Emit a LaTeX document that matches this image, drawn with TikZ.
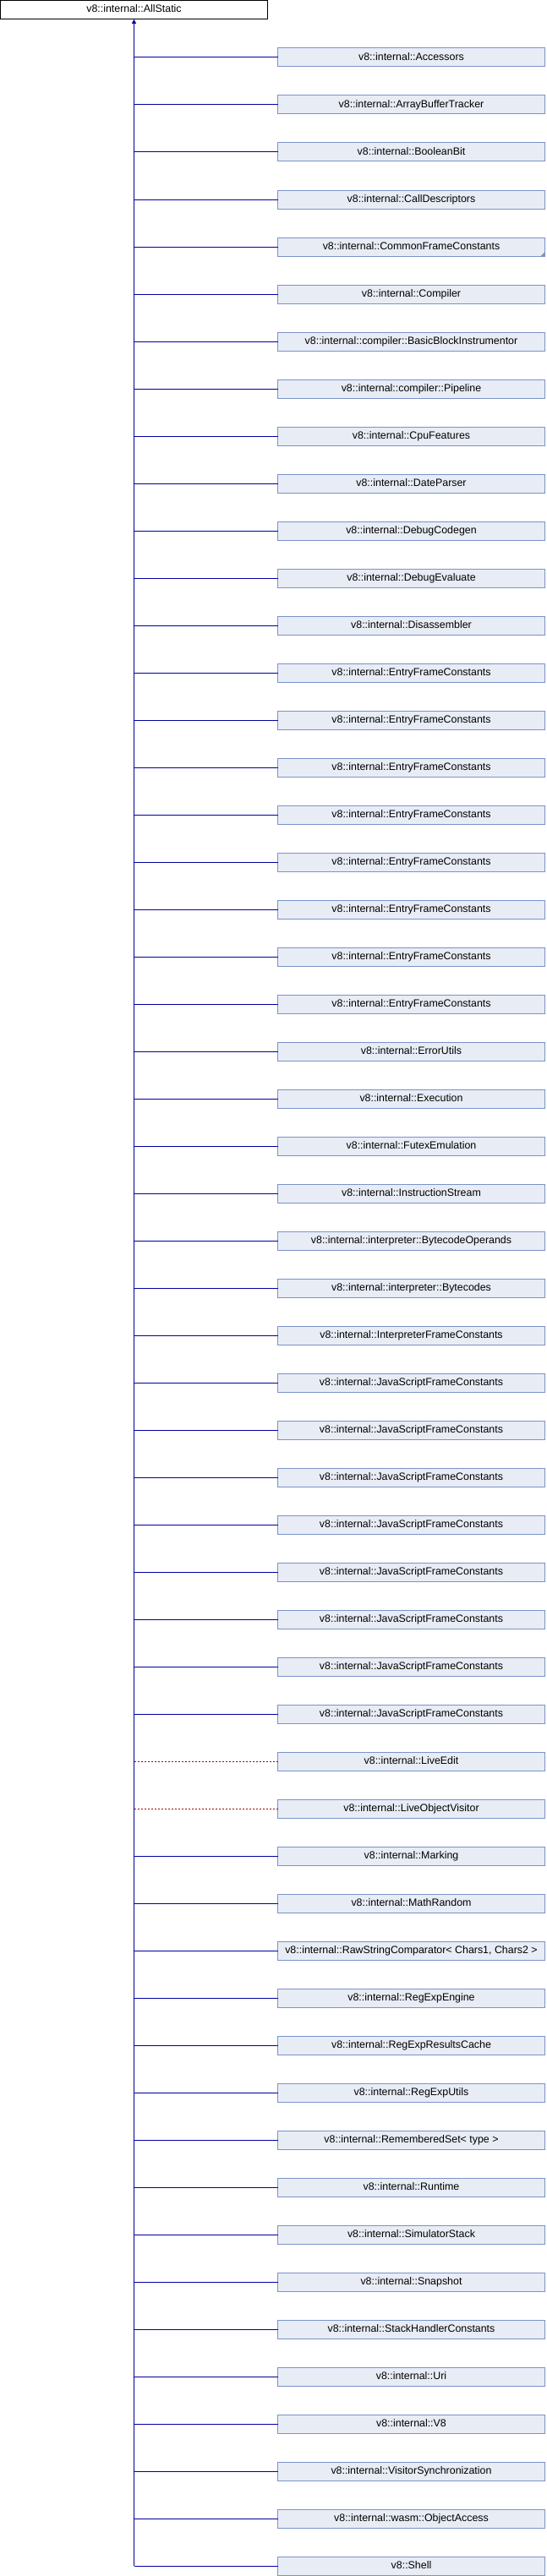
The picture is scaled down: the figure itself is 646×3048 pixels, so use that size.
\documentclass[tikz,border=0pt]{standalone}
\usepackage{fontspec}
\setmainfont{Liberation Sans}
\usetikzlibrary{arrows.meta,positioning}
\definecolor{clsfill}{HTML}{E8ECF5}
\definecolor{clsline}{HTML}{7A93C9}
\definecolor{publine}{HTML}{0000A0}
\definecolor{privline}{HTML}{A00000}

\begin{document}
\begin{tikzpicture}[x=1pt, y=-1pt, node distance=34pt,
    cls/.style={draw=clsline, fill=clsfill, line width=1pt, minimum width=316pt,
      minimum height=22pt, inner sep=0pt, outer sep=0pt, text height=9pt, text depth=2.5pt,
      font=\fontsize{12.4}{14}\selectfont},
    basecls/.style={cls, draw=black, fill=white, minimum height=22.3pt},
    pub/.style={draw=publine, line width=1pt},
    priv/.style={draw=privline, line width=1pt, dash pattern=on 2pt off 2pt}]
           \useasboundingbox (0,0) rectangle (646,3048);
           \node [basecls] (AS) at (158.5,11.65) {v8::internal::AllStatic};
           \node [cls] (Acc) at (486.5,68) {v8::internal::Accessors};
           \node [cls, below=of Acc] (ABT) {v8::internal::ArrayBufferTracker};
           \node [cls, below=of ABT] (BB) {v8::internal::BooleanBit};
           \node [cls, below=of BB] (CD) {v8::internal::CallDescriptors};
           \node [cls, below=of CD] (CFC) {v8::internal::CommonFrameConstants};
           \node [cls, below=of CFC] (Comp) {v8::internal::Compiler};
           \node [cls, below=of Comp] (BBI) {v8::internal::compiler::BasicBlockInstrumentor};
           \node [cls, below=of BBI] (Pipe) {v8::internal::compiler::Pipeline};
           \node [cls, below=of Pipe] (CPU) {v8::internal::CpuFeatures};
           \node [cls, below=of CPU] (DP) {v8::internal::DateParser};
           \node [cls, below=of DP] (DC) {v8::internal::DebugCodegen};
           \node [cls, below=of DC] (DE) {v8::internal::DebugEvaluate};
           \node [cls, below=of DE] (Dis) {v8::internal::Disassembler};
           \node [cls, below=of Dis] (EFC1) {v8::internal::EntryFrameConstants};
           \node [cls, below=of EFC1] (EFC2) {v8::internal::EntryFrameConstants};
           \node [cls, below=of EFC2] (EFC3) {v8::internal::EntryFrameConstants};
           \node [cls, below=of EFC3] (EFC4) {v8::internal::EntryFrameConstants};
           \node [cls, below=of EFC4] (EFC5) {v8::internal::EntryFrameConstants};
           \node [cls, below=of EFC5] (EFC6) {v8::internal::EntryFrameConstants};
           \node [cls, below=of EFC6] (EFC7) {v8::internal::EntryFrameConstants};
           \node [cls, below=of EFC7] (EFC8) {v8::internal::EntryFrameConstants};
           \node [cls, below=of EFC8] (EU) {v8::internal::ErrorUtils};
           \node [cls, below=of EU] (Exe) {v8::internal::Execution};
           \node [cls, below=of Exe] (FE) {v8::internal::FutexEmulation};
           \node [cls, below=of FE] (IS) {v8::internal::InstructionStream};
           \node [cls, below=of IS] (BO) {v8::internal::interpreter::BytecodeOperands};
           \node [cls, below=of BO] (BC) {v8::internal::interpreter::Bytecodes};
           \node [cls, below=of BC] (IFC) {v8::internal::InterpreterFrameConstants};
           \node [cls, below=of IFC] (JSFC1) {v8::internal::JavaScriptFrameConstants};
           \node [cls, below=of JSFC1] (JSFC2) {v8::internal::JavaScriptFrameConstants};
           \node [cls, below=of JSFC2] (JSFC3) {v8::internal::JavaScriptFrameConstants};
           \node [cls, below=of JSFC3] (JSFC4) {v8::internal::JavaScriptFrameConstants};
           \node [cls, below=of JSFC4] (JSFC5) {v8::internal::JavaScriptFrameConstants};
           \node [cls, below=of JSFC5] (JSFC6) {v8::internal::JavaScriptFrameConstants};
           \node [cls, below=of JSFC6] (JSFC7) {v8::internal::JavaScriptFrameConstants};
           \node [cls, below=of JSFC7] (JSFC8) {v8::internal::JavaScriptFrameConstants};
           \node [cls, below=of JSFC8] (LE) {v8::internal::LiveEdit};
           \node [cls, below=of LE] (LOV) {v8::internal::LiveObjectVisitor};
           \node [cls, below=of LOV] (Mark) {v8::internal::Marking};
           \node [cls, below=of Mark] (MR) {v8::internal::MathRandom};
           \node [cls, below=of MR] (RSC) {v8::internal::RawStringComparator< Chars1, Chars2 >};
           \node [cls, below=of RSC] (REE) {v8::internal::RegExpEngine};
           \node [cls, below=of REE] (RERC) {v8::internal::RegExpResultsCache};
           \node [cls, below=of RERC] (REU) {v8::internal::RegExpUtils};
           \node [cls, below=of REU] (RS) {v8::internal::RememberedSet< type >};
           \node [cls, below=of RS] (RT) {v8::internal::Runtime};
           \node [cls, below=of RT] (SS) {v8::internal::SimulatorStack};
           \node [cls, below=of SS] (Snap) {v8::internal::Snapshot};
           \node [cls, below=of Snap] (SHC) {v8::internal::StackHandlerConstants};
           \node [cls, below=of SHC] (Uri) {v8::internal::Uri};
           \node [cls, below=of Uri] (V8) {v8::internal::V8};
           \node [cls, below=of V8] (VS) {v8::internal::VisitorSynchronization};
           \node [cls, below=of VS] (OA) {v8::internal::wasm::ObjectAccess};
           \node [cls, below=of OA] (Shell) {v8::Shell};
           % more subclasses not shown
           \fill [clsline] (CFC.south east) -- ++(-5,0) -- ++(5,-5) -- cycle;
           % trunk up to the base class
           \draw [pub, -{Triangle[length=5pt, width=5pt]}] (Shell.west -| AS.south) -- (AS.south);
           \foreach \c in {Acc, ABT, BB, CD, CFC, Comp, BBI, Pipe, CPU, DP, DC, DE, Dis,
               EFC1, EFC2, EFC3, EFC4, EFC5, EFC6, EFC7, EFC8, EU, Exe, FE, IS, BO, BC, IFC,
               JSFC1, JSFC2, JSFC3, JSFC4, JSFC5, JSFC6, JSFC7, JSFC8, Mark, MR, RSC, REE,
               RERC, REU, RS, RT, SS, Snap, SHC, Uri, V8, VS, OA, Shell}
             \draw [pub] (\c.west) -- (\c.west -| AS.south);
           \draw [priv] (LE.west) -- (LE.west -| AS.south);
           \draw [priv] (LOV.west) -- (LOV.west -| AS.south);
      \end{tikzpicture}
\end{document}
